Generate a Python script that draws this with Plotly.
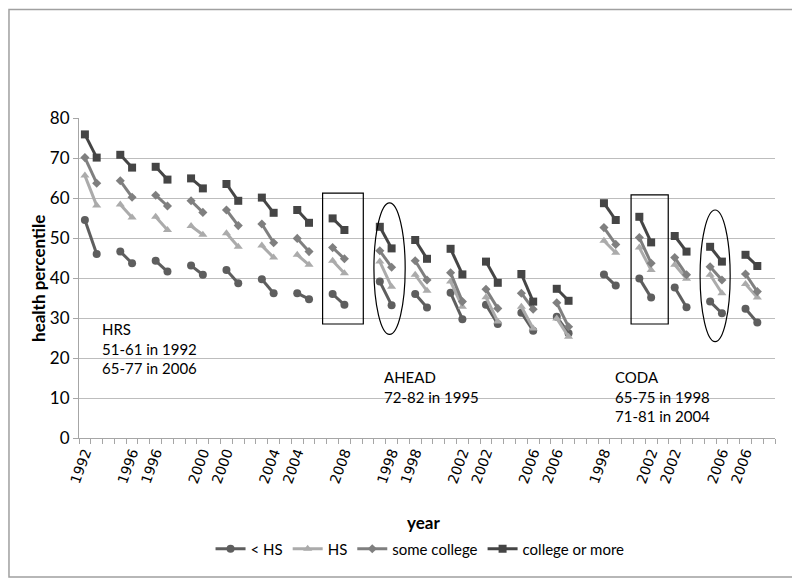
import plotly.graph_objects as go

# ---- data (two waves per cohort segment) ----
studies = ["HRS", "AHEAD", "CODA"]
pairs_per_study = [8, 6, 5]

point_years = [
    1992, 1994, 1994, 1996, 1996, 1998, 1998, 2000, 2000, 2002, 2002, 2004, 2004, 2006, 2006, 2008,
    1995, 1998, 1998, 2000, 2000, 2002, 2002, 2004, 2004, 2006, 2006, 2008,
    1998, 2000, 2000, 2002, 2002, 2004, 2004, 2006, 2006, 2008,
]

lt_hs = [54.5, 46.0, 46.6, 43.7, 44.3, 41.6, 43.1, 40.8, 42.0, 38.7, 39.7, 36.2, 36.2, 34.7, 36.0, 33.3,
         39.1, 33.2, 36.0, 32.6, 36.3, 29.7, 33.3, 28.5, 31.3, 26.8, 30.3, 26.2,
         40.9, 38.1, 39.9, 35.1, 37.6, 32.7, 34.1, 31.2, 32.3, 28.9]
hs = [65.6, 58.1, 58.4, 55.1, 55.3, 52.0, 53.0, 50.8, 51.2, 47.8, 48.1, 45.1, 45.8, 43.3, 44.3, 41.2,
      44.1, 37.8, 40.8, 36.8, 39.1, 32.8, 35.2, 29.1, 32.8, 27.4, 29.9, 25.3,
      49.3, 46.3, 47.6, 42.0, 43.3, 39.8, 40.8, 36.2, 38.5, 35.1]
some_college = [70.1, 63.7, 64.3, 60.2, 60.7, 58.0, 59.3, 56.4, 57.0, 53.1, 53.5, 48.8, 49.9, 46.6, 47.6, 44.8,
                46.8, 42.7, 44.3, 39.5, 41.3, 34.1, 37.2, 32.4, 36.2, 32.2, 33.8, 27.8,
                52.6, 48.4, 50.1, 43.7, 45.1, 40.8, 42.8, 39.5, 41.0, 36.6]
college_plus = [75.9, 70.1, 70.8, 67.6, 67.8, 64.6, 64.9, 62.4, 63.5, 59.3, 60.1, 56.3, 57.0, 53.8, 54.9, 52.0,
                52.8, 47.4, 49.5, 44.8, 47.3, 40.9, 44.1, 38.8, 41.0, 34.1, 37.3, 34.3,
                58.7, 54.5, 55.3, 48.9, 50.5, 46.6, 47.8, 44.1, 45.8, 43.0]

series_names = ["< HS", "HS", "some college", "college or more"]
series_values = [lt_hs, hs, some_college, college_plus]
series_colors = ["#5e5e5e", "#ababab", "#7f7f7f", "#454545"]
series_symbols = ["circle", "triangle-up", "diamond", "square"]
series_sizes = [8, 8, 7, 8]

# ---- slot layout: each pair occupies 2 category slots, 1 blank slot after, extra blank between studies ----
slots = []
start = 0
for n in pairs_per_study:
    for p in range(n):
        slots.append((start + 3 * p, start + 3 * p + 1))
    start += 3 * n + 1
n_slots = start - 1  # 58

point_slot = [s for pr in slots for s in pr]
slot_year = {s: y for s, y in zip(point_slot, point_years)}
tickvals = [s for s in range(0, n_slots, 2) if s in slot_year]
ticktext = [str(slot_year[s]) for s in tickvals]

fig = go.Figure()
for name, vals, col, sym, sz in zip(series_names, series_values, series_colors, series_symbols, series_sizes):
    xs, ys = [], []
    for i, (a, b) in enumerate(slots):
        xs += [a, b, None]
        ys += [vals[2 * i], vals[2 * i + 1], None]
    fig.add_trace(go.Scatter(
        x=xs, y=ys, name=name, mode="lines+markers", connectgaps=False,
        line=dict(color=col, width=3),
        marker=dict(symbol=sym, size=sz, color=col, line=dict(width=0)),
    ))

font_main = "Lato, Calibri, Liberation Sans, sans-serif"

# the page body has an 8px default margin, so the figure is 8px smaller
fig.update_layout(
    width=792, height=574,
    margin=dict(l=71, r=25, t=110, b=144),
    paper_bgcolor="white", plot_bgcolor="white",
    font=dict(family=font_main, size=15, color="black"),
    showlegend=True,
    legend=dict(orientation="h", x=0.49, xanchor="center", y=-0.347, yanchor="middle",
                font=dict(family=font_main, size=15), itemwidth=30, tracegroupgap=0,
                bgcolor="rgba(0,0,0,0)"),
    xaxis=dict(
        range=[-0.5, n_slots - 0.5], tickmode="array", tickvals=tickvals, ticktext=ticktext,
        tickangle=-70, tickfont=dict(family="DejaVu Sans, Verdana, sans-serif", size=14, color="black"),
        ticks="", showgrid=False, zeroline=False, showline=True, linecolor="#a6a6a6", linewidth=1,
        minor=dict(tickmode="linear", tick0=-0.5, dtick=1, ticks="outside", ticklen=5,
                   tickcolor="#a6a6a6", showgrid=False),
    ),
    yaxis=dict(
        range=[0, 80], dtick=10, tick0=0, showgrid=True, gridcolor="#bdbdbd", gridwidth=1,
        zeroline=False, showline=True, linecolor="#a6a6a6", linewidth=1,
        ticks="outside", ticklen=5, tickcolor="#a6a6a6",
        tickfont=dict(family=font_main, size=17, color="black"),
    ),
)

# axis titles
fig.add_annotation(text="<b>health percentile</b>", xref="paper", yref="paper",
                   x=-0.059, y=0.5, xanchor="center", yanchor="middle", textangle=-90, showarrow=False,
                   font=dict(family=font_main, size=17))
fig.add_annotation(text="<b>year</b>", xref="paper", yref="paper",
                   x=0.495, y=-0.2625, xanchor="center", yanchor="middle", showarrow=False,
                   font=dict(family=font_main, size=17))

# study annotations
fig.add_annotation(text="HRS<br>51-61 in 1992<br>65-77 in 2006", xref="x", yref="y",
                   x=1.3, y=30.0, xanchor="left", yanchor="top", align="left", showarrow=False,
                   font=dict(family=font_main, size=15))
fig.add_annotation(text="AHEAD<br>72-82 in 1995", xref="x", yref="y",
                   x=25.2, y=18.0, xanchor="left", yanchor="top", align="left", showarrow=False,
                   font=dict(family=font_main, size=15))
fig.add_annotation(text="CODA<br>65-75 in 1998<br>71-81 in 2004", xref="x", yref="y",
                   x=44.8, y=18.0, xanchor="left", yanchor="top", align="left", showarrow=False,
                   font=dict(family=font_main, size=15))

# highlight boxes and ellipses
fig.add_shape(type="rect", xref="x", yref="y", x0=20.15, x1=23.6, y0=28.5, y1=61.2,
              line=dict(color="black", width=1.2))
fig.add_shape(type="circle", xref="x", yref="y", x0=24.5, x1=27.15, y0=25.9, y1=58.8,
              line=dict(color="black", width=1.2))
fig.add_shape(type="rect", xref="x", yref="y", x0=46.3, x1=49.45, y0=28.5, y1=60.8,
              line=dict(color="black", width=1.2))
fig.add_shape(type="circle", xref="x", yref="y", x0=52.15, x1=54.7, y0=24.1, y1=57.0,
              line=dict(color="black", width=1.2))

# chart-area frame (kept inside the figure so it is not clipped)
fig.add_shape(type="rect", xref="paper", yref="paper", x0=-0.1006, x1=1.0259, y0=-0.434, y1=1.339,
              line=dict(color="#a0a0a0", width=1.5))

fig.write_html("out.html")
